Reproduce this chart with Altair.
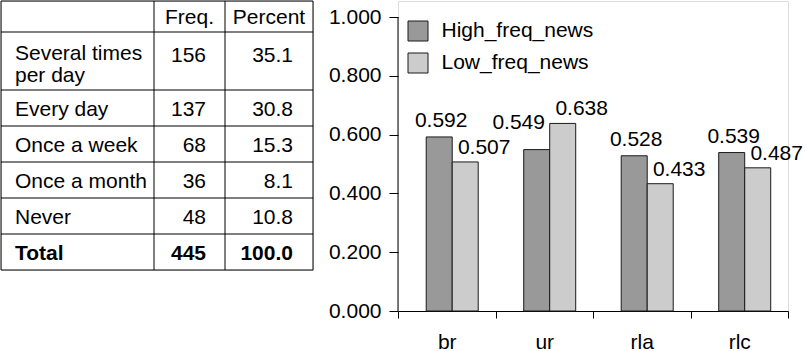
import altair as alt
import pandas as pd

FONT = "Liberation Sans"
FS = 21

# ---- frequency table content ----
freq_labels = ["Several times\nper day", "Every day", "Once a week",
               "Once a month", "Never", "Total"]
freq_counts = [156, 137, 68, 36, 48, 445]
freq_percent = [35.1, 30.8, 15.3, 8.1, 10.8, 100.0]
freq_headers = ["Freq.", "Percent"]

# ---- bar chart content ----
measures = ["br", "ur", "rla", "rlc"]
series = ["High_freq_news", "Low_freq_news"]
high_freq = [0.592, 0.549, 0.528, 0.539]
low_freq = [0.507, 0.638, 0.433, 0.487]
y_ticks = [0.0, 0.2, 0.4, 0.6, 0.8, 1.0]
series_colors = ["#999999", "#cccccc"]

# ---- table layout ----
COL_W = [153, 71, 88]
HEADER_H = 31
LINE_H = 22
CELL_PAD = 14
CAP_HALF = 7.5

col_edges = [0]
for w in COL_W:
    col_edges.append(col_edges[-1] + w)
TABLE_W = col_edges[-1]

n_lines = [len(s.split("\n")) for s in freq_labels]
row_h = [HEADER_H] + [CELL_PAD + LINE_H * n for n in n_lines]
row_edges = [0]
for h in row_h:
    row_edges.append(row_edges[-1] + h)
TABLE_H = row_edges[-1]

cells = []
header_base = row_edges[0] + row_h[0] / 2 + CAP_HALF
for j, head in enumerate(freq_headers):
    cells.append({"x": (col_edges[j + 1] + col_edges[j + 2]) / 2, "y": header_base,
                  "txt": head, "kind": "head", "bold": False})
for i, (lab, cnt, pct, n) in enumerate(zip(freq_labels, freq_counts, freq_percent, n_lines)):
    top = row_edges[i + 1]
    h = row_h[i + 1]
    base = top + h / 2 + CAP_HALF - (n - 1) * LINE_H / 2
    bold = lab == "Total"
    cells.append({"x": col_edges[0] + 14, "y": base + 2 * (n - 1), "txt": lab,
                  "kind": "label", "bold": bold})
    nb = base + 4 * (n - 1)
    cells.append({"x": col_edges[2] - 19, "y": nb, "txt": f"{cnt}", "kind": "num", "bold": bold})
    cells.append({"x": col_edges[3] - 20, "y": nb, "txt": f"{pct:.1f}", "kind": "num", "bold": bold})
cells_df = pd.DataFrame(cells)

hlines = pd.DataFrame({"y": row_edges, "x0": 0, "x1": TABLE_W})
vlines = pd.DataFrame({"x": col_edges, "y0": 0, "y1": TABLE_H})

xs = alt.Scale(domain=[0, TABLE_W], nice=False, zero=False)
ys = alt.Scale(domain=[0, TABLE_H], nice=False, zero=False, reverse=True)

h_rules = alt.Chart(hlines).mark_rule(color="black", strokeWidth=1).encode(
    x=alt.X("x0:Q", scale=xs, axis=None), x2="x1:Q",
    y=alt.Y("y:Q", scale=ys, axis=None))
v_rules = alt.Chart(vlines).mark_rule(color="black", strokeWidth=1).encode(
    x=alt.X("x:Q", scale=xs, axis=None),
    y=alt.Y("y0:Q", scale=ys, axis=None), y2="y1:Q")


def cell_text(kind, align, bold):
    return alt.Chart(cells_df).transform_filter(
        (alt.datum.kind == kind) & (alt.datum.bold == bold)
    ).mark_text(align=align, baseline="alphabetic", font=FONT, fontSize=FS,
                fontWeight="bold" if bold else "normal", color="black",
                lineBreak="\n", lineHeight=LINE_H).encode(
        x=alt.X("x:Q", scale=xs, axis=None),
        y=alt.Y("y:Q", scale=ys, axis=None),
        text="txt:N")


table = alt.layer(
    h_rules, v_rules,
    cell_text("head", "center", False),
    cell_text("label", "left", False), cell_text("label", "left", True),
    cell_text("num", "right", False), cell_text("num", "right", True),
).properties(width=TABLE_W, height=TABLE_H)

# ---- grouped bars ----
bar_df = pd.DataFrame({
    "measure": measures * 2,
    "series": [series[0]] * len(measures) + [series[1]] * len(measures),
    "value": high_freq + low_freq,
})

GAP = 85
PLOT_W, PLOT_H = 390, 310
UNIT_PX = 294
y_scale = alt.Scale(domain=[0, PLOT_H / UNIT_PX], nice=False, zero=True)

x_enc = alt.X("measure:N", sort=measures, title=None,
              scale=alt.Scale(paddingInner=0, paddingOuter=0),
              axis=alt.Axis(labelAngle=0, tickBand="extent", tickSize=7,
                            labelFontSize=FS, labelFont=FONT, labelColor="black",
                            labelBaseline="alphabetic", labelPadding=30,
                            domainColor="black", tickColor="black", grid=False))
y_enc = alt.Y("value:Q", title=None, scale=y_scale,
              axis=alt.Axis(values=y_ticks, format=".3f", domain=False, tickSize=9,
                            labelPadding=8, labelFontSize=FS, labelFont=FONT,
                            labelColor="black", tickColor="black", grid=False))
off_enc = alt.XOffset("series:N", sort=series,
                      scale=alt.Scale(paddingInner=0, paddingOuter=0.875, align=0.62))

base = alt.Chart(bar_df)

# legend sits inside the bar panel, near its top-left corner
legend = alt.Legend(title=None, orient="none", legendX=TABLE_W + GAP + 9.5, legendY=19.5,
                    symbolType="square", symbolSize=400,
                    symbolStrokeColor="#1a1a1a", symbolStrokeWidth=1,
                    symbolOpacity=1, labelFontSize=FS, labelFont=FONT,
                    labelColor="black", labelOffset=13, rowPadding=7, padding=0)

bars = base.mark_bar(stroke="#1a1a1a", strokeWidth=1, opacity=1).encode(
    x=x_enc, xOffset=off_enc, y=y_enc,
    color=alt.Color("series:N", sort=series,
                    scale=alt.Scale(domain=series, range=series_colors),
                    legend=legend))

axis_line = alt.Chart(pd.DataFrame({"value": [0.0], "value_end": [1.0]})).mark_rule(
    color="black", strokeWidth=1).encode(
    x=alt.value(0), y=alt.Y("value:Q", scale=y_scale), y2="value_end:Q")

labelled = base.transform_joinaggregate(top="max(value)", groupby=["measure"])


def value_text(cond, dx, dy):
    return labelled.transform_filter(cond).mark_text(
        baseline="alphabetic", font=FONT, fontSize=FS, color="black", dx=dx, dy=dy
    ).encode(x=alt.X("measure:N", sort=measures), xOffset=off_enc,
             y=alt.Y("value:Q", scale=y_scale),
             text=alt.Text("value:Q", format=".3f"))


high_top = value_text((alt.datum.series == series[0]) & (alt.datum.value >= alt.datum.top), 2, -10)
high_low = value_text((alt.datum.series == series[0]) & (alt.datum.value < alt.datum.top), -18, -21)
low_lab = value_text(alt.datum.series == series[1], 19, -8)

bar_panel = alt.layer(bars, axis_line, high_top, high_low, low_lab).properties(
    width=PLOT_W, height=PLOT_H)

chart = alt.hconcat(table, bar_panel, spacing=GAP, bounds="flush", padding=0).configure_view(
    strokeWidth=0).configure(font=FONT, background="white")

chart.save("out.html", embed_options={"renderer": "svg", "actions": False})
